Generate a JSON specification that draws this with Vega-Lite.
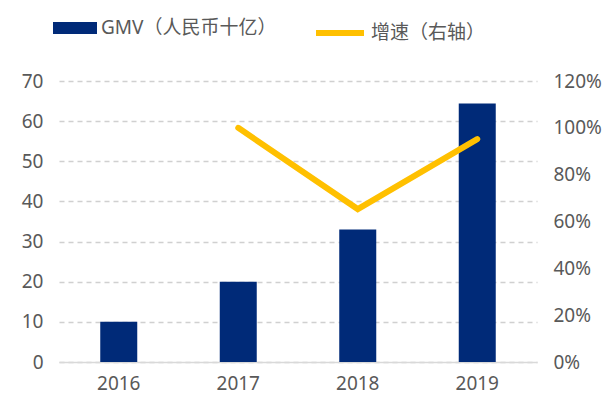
{
  "$schema": "https://vega.github.io/schema/vega-lite/v6.json",
  "width": 478,
  "height": 281,
  "autosize": {"type": "none"},
  "padding": {"left": 59, "top": 81, "right": 77, "bottom": 39},
  "background": "white",
  "config": {
    "view": {"stroke": null},
    "font": "Noto Sans, Noto Sans CJK SC",
    "axis": {"labelFont": "Noto Sans", "labelFontSize": 19, "labelColor": "#595959", "ticks": false, "title": null},
    "legend": {"labelFont": "Noto Sans, Noto Sans CJK SC", "labelFontSize": 19, "labelColor": "#595959", "padding": 0, "title": null, "labelLimit": 0}
  },
  "data": {
    "values": [
      {"year": "2016", "gmv": 10, "growth": null},
      {"year": "2017", "gmv": 20, "growth": 1.0},
      {"year": "2018", "gmv": 33, "growth": 0.653},
      {"year": "2019", "gmv": 64.4, "growth": 0.952}
    ]
  },
  "encoding": {
    "x": {
      "field": "year", "type": "nominal",
      "scale": {"paddingInner": 0, "paddingOuter": 0},
      "axis": {"labelAngle": 0, "domainColor": "#D9D9D9", "domainWidth": 1.5, "labelPadding": 12, "grid": false}
    }
  },
  "layer": [
    {
      "mark": {"type": "bar", "size": 37},
      "encoding": {
        "y": {
          "field": "gmv", "type": "quantitative",
          "scale": {"domain": [0, 70]},
          "axis": {"values": [0, 10, 20, 30, 40, 50, 60, 70], "domain": false, "grid": true, "gridColor": "#D0D0D0", "gridDash": [5, 4], "gridWidth": 1.5, "labelPadding": 16}
        },
        "color": {
          "datum": "GMV（人民币十亿）",
          "scale": {"range": ["#002A78"]},
          "legend": {"orient": "none", "legendX": -6, "legendY": -75, "symbolType": "M-1,-0.27H1V0.27H-1Z", "symbolSize": 1936, "symbolStrokeWidth": 0, "labelOffset": 4}
        }
      }
    },
    {
      "transform": [{"filter": "datum.growth != null"}],
      "mark": {"type": "line", "strokeWidth": 6, "strokeCap": "round", "strokeJoin": "miter"},
      "encoding": {
        "y": {
          "field": "growth", "type": "quantitative",
          "scale": {"domain": [0, 1.2]},
          "axis": {"orient": "right", "values": [0, 0.2, 0.4, 0.6, 0.8, 1.0, 1.2], "format": ".0%", "domain": false, "grid": false, "labelPadding": 16}
        },
        "stroke": {
          "datum": "增速（右轴）",
          "scale": {"range": ["#FFC000"]},
          "legend": {"orient": "none", "legendX": 254, "legendY": -75, "symbolType": "stroke", "symbolSize": 2304, "symbolStrokeWidth": 6, "labelOffset": 4}
        }
      }
    }
  ],
  "resolve": {"scale": {"y": "independent"}}
}
